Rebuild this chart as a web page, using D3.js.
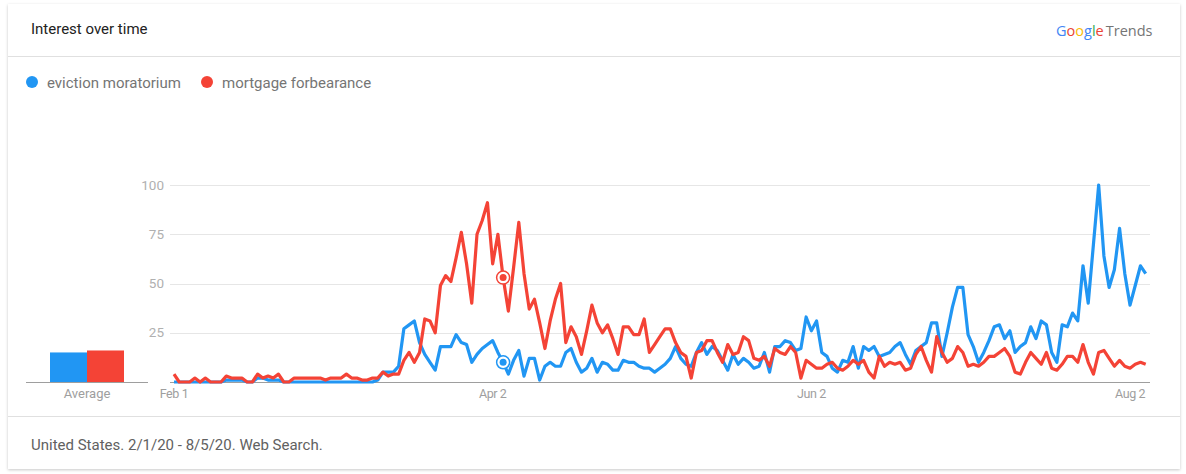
<!DOCTYPE html>
<html>
<head>
<meta charset="utf-8">
<script src="https://cdn.jsdelivr.net/npm/d3@7"></script>
<style>
  html, body { margin: 0; padding: 0; background: #ffffff; }
  svg { display: block; font-family: Roboto, "Noto Sans", Arial, sans-serif; }
</style>
</head>
<body>
<svg id="chart" width="1186" height="474"></svg>
<script>
// ---- data ----
const seriesNames = ["eviction moratorium", "mortgage forbearance"];
const seriesColors = ["#2196f3", "#f44336"];
const startDate = "2020-02-01";
const evictionMoratorium = [
  0,0,0,0,0,0,0,0,0,0,
  1,1,1,1,0,0,2,2,1,1,
  1,0,0,0,0,0,0,0,0,0,
  0,0,0,0,0,0,0,0,0,1,
  5,5,5,8,27,29,31,20,14,10,
  6,18,18,18,24,20,19,10,14,17,
  19,21,15,10,4,11,16,3,12,12,
  1,8,10,8,8,15,17,10,5,7,
  12,5,10,9,6,6,11,10,10,8,
  7,7,5,7,9,12,18,12,9,8,
  15,20,14,18,16,11,6,14,9,12,
  10,7,8,15,5,18,18,21,20,16,
  17,33,26,31,15,13,7,5,11,10,
  18,7,18,16,18,13,14,15,18,20,
  14,9,16,18,20,30,30,13,25,38,
  48,48,24,18,10,15,21,28,29,22,
  26,15,18,20,28,22,31,29,15,10,
  29,28,35,31,59,40,70,100,64,48,
  57,78,55,39,49,59,55
];
const mortgageForbearance = [
  4,0,0,0,2,0,2,0,0,0,
  3,2,2,2,0,0,4,2,3,2,
  4,0,0,2,2,2,2,2,2,1,
  2,2,2,4,2,2,1,1,2,2,
  5,3,4,4,11,15,10,15,32,31,
  25,49,54,51,63,76,60,40,75,82,
  91,60,75,53,36,58,81,55,37,42,
  30,17,31,42,50,20,28,23,14,26,
  39,30,25,29,22,14,28,28,24,24,
  32,15,19,23,27,27,20,15,13,2,
  15,16,21,21,15,10,19,14,15,23,
  21,12,11,13,8,17,15,14,18,15,
  2,11,9,7,7,9,10,7,6,8,
  11,9,11,5,2,13,8,10,9,10,
  6,7,14,18,11,5,23,15,10,12,
  18,15,8,9,8,10,13,13,15,17,
  13,5,4,10,15,12,9,15,7,6,
  9,13,13,10,19,10,4,15,16,12,
  8,11,8,7,9,10,9
];
const averages = [15, 16];
const yTicks = [0, 25, 50, 75, 100];
const xTickDates = ["2020-02-01", "2020-04-02", "2020-06-02", "2020-08-02"];
const xTickLabels = ["Feb 1", "Apr 2", "Jun 2", "Aug 2"];
const hoverDate = "2020-04-04";
const titleText = "Interest over time";
const footerText = "United States. 2/1/20 - 8/5/20. Web Search.";

// ---- drawing ----
const svg = d3.select("#chart");
const parse = d3.utcParse("%Y-%m-%d");
const t0 = parse(startDate);
const dates = evictionMoratorium.map((_, i) => d3.utcDay.offset(t0, i));
const series = [evictionMoratorium, mortgageForbearance];

// card
const defs = svg.append("defs");
const f = defs.append("filter").attr("id", "shadow").attr("x", "-2%").attr("y", "-2%").attr("width", "104%").attr("height", "106%");
f.append("feDropShadow").attr("dx", 0).attr("dy", 1).attr("stdDeviation", 1.5).attr("flood-color", "#000").attr("flood-opacity", 0.22);
svg.append("rect").attr("x", 8).attr("y", 4).attr("width", 1172).attr("height", 465)
  .attr("fill", "#fff").attr("filter", "url(#shadow)");

// header
svg.append("text").attr("x", 31).attr("y", 34).attr("font-size", 15).attr("fill", "#222")
  .text(titleText);
const logo = svg.append("text").attr("x", 1056).attr("y", 36).attr("font-size", 14.5)
  .attr("font-family", "'Open Sans', Roboto, sans-serif");
[["G","#4285f4"],["o","#ea4335"],["o","#fbbc05"],["g","#4285f4"],["l","#34a853"],["e","#ea4335"]]
  .forEach(([ch, c]) => logo.append("tspan").attr("fill", c).text(ch));
logo.append("tspan").attr("fill", "#757575").attr("dx", 2).text("Trends");

svg.append("line").attr("x1", 8).attr("x2", 1180).attr("y1", 56.5).attr("y2", 56.5).attr("stroke", "#e0e0e0");
svg.append("line").attr("x1", 8).attr("x2", 1180).attr("y1", 416.5).attr("y2", 416.5).attr("stroke", "#e0e0e0");

// legend
const legendX = [32, 207];
seriesNames.forEach((n, k) => {
  svg.append("circle").attr("cx", legendX[k]).attr("cy", 82).attr("r", 6).attr("fill", seriesColors[k]);
  svg.append("text").attr("x", legendX[k] + 15).attr("y", 87.5).attr("font-size", 15).attr("fill", "#757575").text(n);
});

// footer
svg.append("text").attr("x", 31).attr("y", 450).attr("font-size", 15).attr("fill", "#616161").text(footerText);

// scales
const x = d3.scaleUtc().domain([dates[0], dates[dates.length - 1]]).range([174, 1145.7]);
const y = d3.scaleLinear().domain([0, 100]).range([382, 185]);

// grid
const grid = svg.append("g");
yTicks.forEach(v => {
  grid.append("line").attr("x1", 170).attr("x2", 1150).attr("y1", Math.round(y(v)) + 0.5).attr("y2", Math.round(y(v)) + 0.5)
    .attr("stroke", v === 0 ? "#9e9e9e" : "#e6e6e6").attr("stroke-width", 1);
  if (v > 0) {
    grid.append("text").attr("x", 164).attr("y", y(v) + 4.5).attr("text-anchor", "end")
      .attr("font-size", 13.5).attr("fill", "#b0b0b0").text(v);
  }
});
// x ticks
xTickDates.forEach((d, k) => {
  svg.append("text").attr("x", x(parse(d))).attr("y", 398).attr("text-anchor", "middle")
    .attr("font-size", 12.5).attr("fill", "#9e9e9e").attr("letter-spacing", "-0.4").text(xTickLabels[k]);
});

// average bars
const xb = d3.scaleBand().domain([0, 1]).range([50, 124]).padding(0);
averages.forEach((v, k) => {
  svg.append("rect").attr("x", xb(k)).attr("y", y(v)).attr("width", xb.bandwidth()).attr("height", y(0) - y(v))
    .attr("fill", seriesColors[k]);
});
svg.append("line").attr("x1", 26).attr("x2", 148).attr("y1", 382.5).attr("y2", 382.5).attr("stroke", "#9e9e9e");
svg.append("text").attr("x", 87).attr("y", 398).attr("text-anchor", "middle").attr("font-size", 13)
  .attr("fill", "#9e9e9e").text("Average");

// lines
const line = d3.line().x((d, i) => x(dates[i])).y(d => y(d)).curve(d3.curveLinear);
series.forEach((s, k) => {
  svg.append("path").datum(s).attr("d", line).attr("fill", "none")
    .attr("stroke", seriesColors[k]).attr("stroke-width", 3.2).attr("stroke-linejoin", "round");
});

// hover markers
const hi = dates.findIndex(d => +d === +parse(hoverDate));
series.forEach((s, k) => {
  const cx = x(dates[hi]), cy = y(s[hi]);
  svg.append("circle").attr("cx", cx).attr("cy", cy).attr("r", 6.5).attr("fill", "#fff")
    .attr("stroke", seriesColors[k]).attr("stroke-width", 1.5);
  svg.append("circle").attr("cx", cx).attr("cy", cy).attr("r", 3.5).attr("fill", seriesColors[k]);
});
</script>
</body>
</html>
